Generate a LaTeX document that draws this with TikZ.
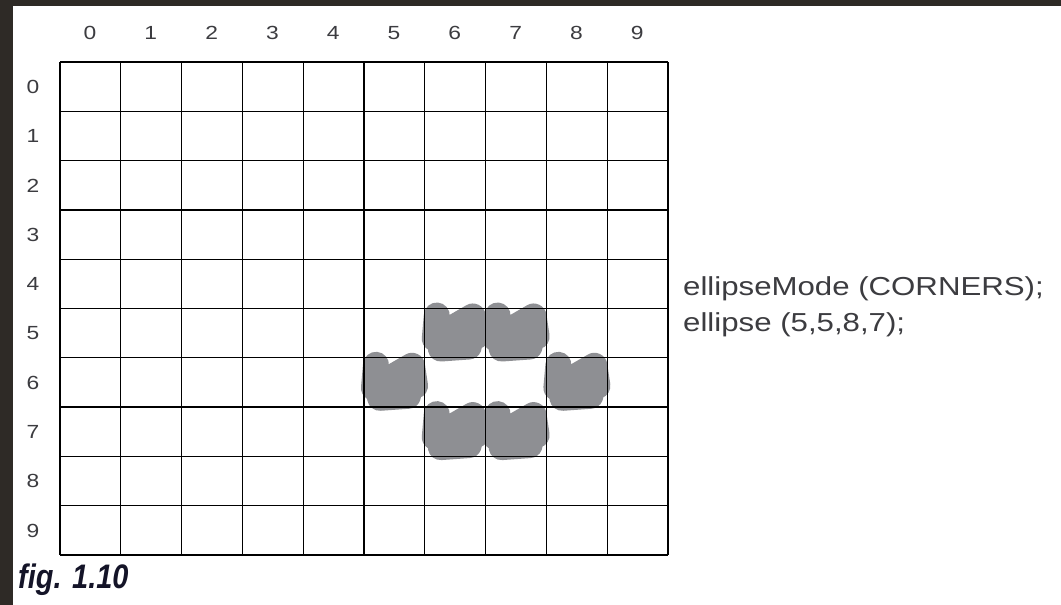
\documentclass[tikz,border=0pt]{standalone}
\usepackage{fontspec}
\setmainfont{Liberation Sans}
\usepackage{tikz}
\usetikzlibrary{positioning,calc}
\definecolor{frame}{RGB}{46,42,38}
\definecolor{scribble}{RGB}{142,143,147}
\definecolor{inkgrey}{RGB}{60,60,64}
\definecolor{figink}{RGB}{20,20,40}

\begin{document}
\begin{tikzpicture}[x=1pt, y=-1pt,
    gridline/.style={draw=black, line width=1.3pt},
    numlabel/.style={font=\fontsize{19}{19}\selectfont\addfontfeature{FakeStretch=1.2}, text=inkgrey, inner sep=0pt},
    codeline/.style={font=\fontsize{26}{26}\selectfont\addfontfeature{FakeStretch=1.2}, text=inkgrey, anchor=west, inner sep=0pt},
    hatch/.style={draw=scribble, line width=26pt, line cap=round, line join=round}
]

% === Page and frame ===
\useasboundingbox (0,0) rectangle (1061,605);
\fill[white] (0,0) rectangle (1061,605);
\fill[frame] (0,0) rectangle (1061,6);
\fill[frame] (0,0) rectangle (13,605);

% === Filled cells (drawn under the grid) ===
\foreach \c/\r in {6/5,7/5,5/6,8/6,6/7,7/7} {
    \pgfmathsetmacro{\xa}{60+60.8*\c}
    \pgfmathsetmacro{\ya}{62+49.3*\r}
    \draw[hatch] ($(\xa,\ya)+(12,7)$) -- ($(\xa,\ya)+(10,30)$) -- ($(\xa,\ya)+(48,8)$)
        -- ($(\xa,\ya)+(51,28)$) -- ($(\xa,\ya)+(16,40)$) -- ($(\xa,\ya)+(44,38)$)
        -- ($(\xa,\ya)+(30,22)$);
}

% === Grid ===
\foreach \i in {0,...,10} {
    \draw[gridline] (60+60.8*\i,62) -- (60+60.8*\i,555);
    \draw[gridline] (60,62+49.3*\i) -- (668,62+49.3*\i);
}

% === Labels ===
\foreach \i in {0,...,9} {
    \node[numlabel] (col\i) at (90+60.8*\i,33) {\i};
    \node[numlabel] (row\i) at (33,87+49.3*\i) {\i};
}

\node[codeline] (mode) at (683,289) {ellipseMode (CORNERS);};
\node[codeline, below=36pt of mode.west, anchor=west] (call) {ellipse (5,5,8,7);};

\node[font=\fontsize{34}{34}\selectfont\bfseries\itshape\addfontfeature{FakeStretch=0.85}, text=figink, anchor=west, inner sep=0pt] (fig) at (18,580) {fig. 1.10};

\end{tikzpicture}
\end{document}
